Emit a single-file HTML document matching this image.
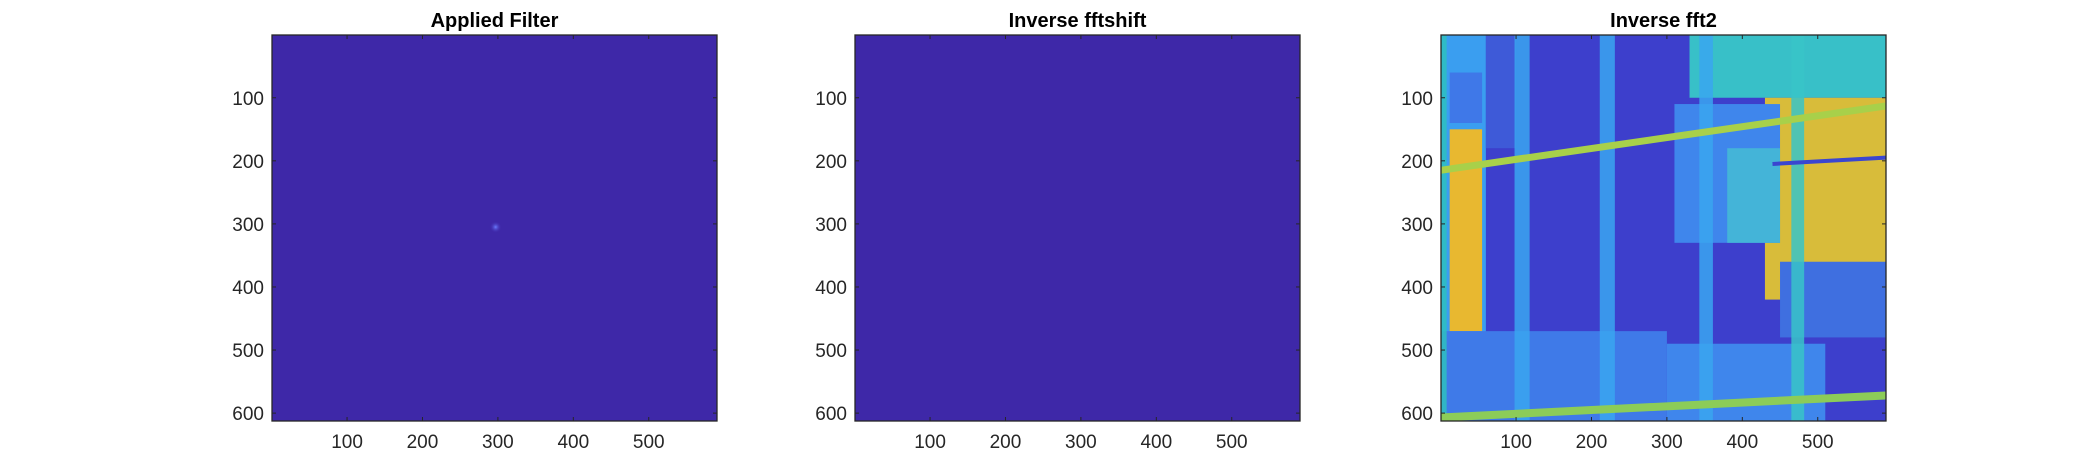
<!DOCTYPE html>
<html><head><meta charset="utf-8"><style>
html,body{margin:0;padding:0;background:#fff;}
svg{display:block;font-family:"Liberation Sans",sans-serif;}
</style></head><body>
<svg id="fig" width="2083" height="473" viewBox="0 0 2083 473">
<defs>
<clipPath id="c3"><rect x="1441" y="35" width="445" height="386"/></clipPath>
<radialGradient id="spot"><stop offset="0" stop-color="#6a7cff"/><stop offset="1" stop-color="#3e26a8" stop-opacity="0"/></radialGradient>
</defs>
</svg>
<script>
const xTicks=[100,200,300,400,500];
const yTicks=[100,200,300,400,500,600];
const xRange=[0.5,590.5];
const yRange=[0.5,612.5];
const titles=["Applied Filter","Inverse fftshift","Inverse fft2"];
const axLeft=[272,855,1441];
const axTop=35, axW=445, axH=386;
// image features for panel 3, in data units [x0,y0,x1,y1,color]
const regions=[
 [0,0,590,612,"#3d3fcc"],
 [0,0,60,612,"#3a9ef0"],
 [12,150,55,470,"#e8b830"],
 [12,60,55,140,"#3f78e8"],
 [0,470,300,612,"#3f7ae8"],
 [300,490,510,612,"#3f86ec"],
 [330,0,590,100,"#38c0c8"],
 [430,100,590,420,"#d8bc3a"],
 [310,110,450,330,"#3f86ec"],
 [380,180,450,330,"#44b4d8"],
 [450,360,590,480,"#3f6fe0"],
 [60,0,100,180,"#3e5ad8"]
];
const vBars=[[0,8,"#2ec0c0"],[98,118,"#3aa6f0"],[211,231,"#3aa6f0"],[343,361,"#3aa6f0"],[465,482,"#38c4c8"]];
// diagonal bars: [xStart, yStart, xEnd, yEnd, color, width]
const dBars=[[0,215,590,113,"#a8d04a",7],[0,607,590,572,"#8ccc58",8],[440,205,590,195,"#3a46d0",4]];
const svg=document.getElementById('fig');
const NS='http://www.w3.org/2000/svg';
function mk(t,a){const e=document.createElementNS(NS,t);for(const k in a)e.setAttribute(k,a[k]);svg.appendChild(e);return e;}
function sx(i,v){return axLeft[i]+(v-xRange[0])/(xRange[1]-xRange[0])*axW;}
function sy(v){return axTop+(v-yRange[0])/(yRange[1]-yRange[0])*axH;}
for(let i=0;i<3;i++){
 const bg=mk('rect',{x:axLeft[i],y:axTop,width:axW,height:axH,fill:'#3e28a8'});
 
 
 if(i===2){
  const g=document.createElementNS(NS,'g');g.setAttribute('clip-path','url(#c3)');svg.appendChild(g);
  
  
  for(const r of regions){const e=document.createElementNS(NS,'rect');
   e.setAttribute('x',sx(2,r[0]));e.setAttribute('y',sy(r[1]));
   e.setAttribute('width',sx(2,r[2])-sx(2,r[0]));e.setAttribute('height',sy(r[3])-sy(r[1]));
   e.setAttribute('fill',r[4]);g.appendChild(e);}
  for(const b of vBars){const e=document.createElementNS(NS,'rect');
   e.setAttribute('x',sx(2,b[0]));e.setAttribute('y',axTop);
   e.setAttribute('width',sx(2,b[1])-sx(2,b[0]));e.setAttribute('height',axH);
   e.setAttribute('fill',b[2]);e.setAttribute('opacity','0.85');g.appendChild(e);}
  for(const d of dBars){const e=document.createElementNS(NS,'line');
   e.setAttribute('x1',sx(2,d[0]));e.setAttribute('y1',sy(d[1]));
   e.setAttribute('x2',sx(2,d[2]));e.setAttribute('y2',sy(d[3]));
   e.setAttribute('stroke',d[4]);e.setAttribute('stroke-width',d[5]);g.appendChild(e);}
 }
 if(i===0){
  const s=mk('circle',{cx:sx(0,297),cy:sy(305),r:6,fill:'url(#spot)'});
  
  
 }
 const fr=mk('rect',{x:axLeft[i],y:axTop,width:axW,height:axH,fill:'none',stroke:'#262626','stroke-width':1.3});
 
 
 for(const t of xTicks){const x=sx(i,t);
  mk('line',{x1:x,y1:axTop+axH,x2:x,y2:axTop+axH-4,stroke:'#262626'});
  mk('line',{x1:x,y1:axTop,x2:x,y2:axTop+4,stroke:'#262626'});
  const l=mk('text',{x:x,y:axTop+axH+27,'text-anchor':'middle','font-size':19,fill:'#262626'});l.textContent=t;
  
  }
 for(const t of yTicks){const y=sy(t);
  mk('line',{x1:axLeft[i],y1:y,x2:axLeft[i]+4,y2:y,stroke:'#262626'});
  mk('line',{x1:axLeft[i]+axW,y1:y,x2:axLeft[i]+axW-4,y2:y,stroke:'#262626'});
  const l=mk('text',{x:axLeft[i]-8,y:y+7,'text-anchor':'end','font-size':19,fill:'#262626'});l.textContent=t;
  
  }
 const tt=mk('text',{x:axLeft[i]+axW/2,y:27,'text-anchor':'middle','font-size':20,'font-weight':'bold',fill:'#000'});
 tt.textContent=titles[i];
 
 
}
</script>
</body></html>
